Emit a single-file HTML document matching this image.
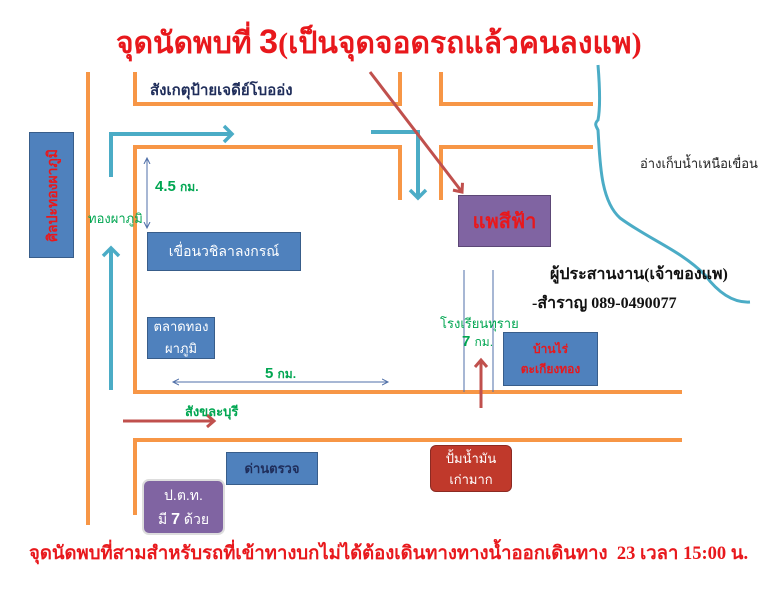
<!DOCTYPE html>
<html><head><meta charset="utf-8"><style>
body{margin:0;background:#fff}
.w{position:relative;width:772px;height:600px;overflow:hidden;font-family:"Liberation Sans","Noto Sans CJK SC",sans-serif}
.t{position:absolute;white-space:nowrap}
.b{position:absolute;background:#4F81BD;border:1px solid #385D8A;color:#fff;display:flex;align-items:center;justify-content:center;text-align:center;font-size:13px;box-sizing:border-box;white-space:nowrap}
</style></head><body><div class="w">
<svg width="772" height="600" style="position:absolute;left:0;top:0">
<defs>
<marker id="at" markerUnits="userSpaceOnUse" markerWidth="16" markerHeight="20" refX="10" refY="10" orient="auto"><path d="M2,2 L10,10 L2,18" fill="none" stroke="#4BACC6" stroke-width="3.5"/></marker>
<marker id="ar" markerUnits="userSpaceOnUse" markerWidth="14" markerHeight="16" refX="9" refY="8" orient="auto"><path d="M2,2 L9,8 L2,14" fill="none" stroke="#C0504D" stroke-width="3"/></marker>
<marker id="ab" markerUnits="userSpaceOnUse" markerWidth="8" markerHeight="8" refX="6" refY="4" orient="auto-start-reverse"><path d="M0,1 L6,4 L0,7" fill="none" stroke="#4F6FA8" stroke-width="1"/></marker>
</defs>
<g stroke="#F79646" stroke-width="4" fill="none">
<path d="M88,72 V525"/>
<path d="M135,72 V104 H400 V72"/>
<path d="M400,200 V147 H135 V392 H682"/>
<path d="M441,72 V104 H593"/>
<path d="M441,200 V147 H593"/>
<path d="M682,440 H135 V515"/>
</g>
<g stroke="#4BACC6" stroke-width="4" fill="none">
<path d="M111,177 V134 H232" marker-end="url(#at)"/>
<path d="M111,390 V248" marker-end="url(#at)"/>
<path d="M371,132 H418 V198" marker-end="url(#at)"/>
<path d="M598,65 C600,90 600,110 598,120 C594,124 596,126 598,130 C600,160 600,200 620,218 C650,240 680,250 705,275 C720,295 735,303 750,302" stroke-width="3"/>
</g>
<g stroke="#C0504D" stroke-width="3" fill="none">
<path d="M370,72 L462,192" marker-end="url(#ar)"/>
<path d="M123,421 H214" marker-end="url(#ar)"/>
<path d="M481,408 V360" marker-end="url(#ar)"/>
</g>
<g stroke="#4F6FA8" stroke-width="1">
<path d="M147,158 V228" marker-start="url(#ab)" marker-end="url(#ab)"/>
<path d="M173,382 H388" marker-start="url(#ab)" marker-end="url(#ab)"/>
<path d="M464,270 V392 M493,270 V392"/>
</g>
</svg>
<div class="t" style="left:116px;top:20px;color:#E8181C;font-family:'Liberation Serif','Noto Serif CJK SC',serif;font-size:30px;font-weight:bold">จุดนัดพบที่ <span style="font-family:'Liberation Sans',sans-serif;font-size:34px">3</span>(เป็นจุดจอดรถแล้วคนลงแพ)</div>
<div class="t" style="left:150px;top:78px;font-size:15px;color:#1F2D5A;font-weight:bold">สังเกตุป้ายเจดีย์โบออ่ง</div>
<div class="b" style="left:29px;top:132px;width:45px;height:126px;color:#E8181C;font-weight:bold;font-size:14px"><span style="writing-mode:vertical-rl;transform:rotate(180deg)">ศิลปะทองผาภูมิ</span></div>
<div class="t" style="left:155px;top:178px;color:#00A651;font-size:15px;font-weight:bold">4.5 <span style="font-size:12px">กม.</span></div>
<div class="t" style="left:88px;top:208px;color:#00A651;font-size:13px">ทองผาภูมิ</div>
<div class="b" style="left:147px;top:232px;width:154px;height:39px;font-size:14px">เขื่อนวชิลาลงกรณ์</div>
<div class="b" style="left:147px;top:317px;width:68px;height:42px;font-size:13px;line-height:22px">ตลาดทอง<br>ผาภูมิ</div>
<div class="t" style="left:265px;top:365px;color:#00A651;font-size:15px;font-weight:bold">5 <span style="font-size:12px">กม.</span></div>
<div class="t" style="left:185px;top:401px;color:#00A651;font-size:13px;font-weight:bold">สังขละบุรี</div>
<div class="b" style="left:458px;top:195px;width:93px;height:52px;background:#8064A2;border-color:#5C4776;color:#E8181C;font-weight:bold;font-size:20px;font-family:'Liberation Serif','Noto Serif CJK SC',serif">แพสีฟ้า</div>
<div class="t" style="left:640px;top:153px;font-size:13px;color:#222">อ่างเก็บน้ำเหนือเขื่อน</div>
<div class="t" style="left:550px;top:262px;font-family:'Liberation Serif','Noto Serif CJK SC',serif;font-size:16px;font-weight:bold;color:#111">ผู้ประสานงาน(เจ้าของแพ)</div>
<div class="t" style="left:532px;top:291px;font-family:'Liberation Serif','Noto Serif CJK SC',serif;font-size:16px;font-weight:bold;color:#111">-สำราญ 089-0490077</div>
<div class="t" style="left:440px;top:313px;color:#00A651;font-size:13px">โรงเรียนทุราย</div>
<div class="t" style="left:462px;top:333px;color:#00A651;font-size:15px;font-weight:bold">7 <span style="font-size:12px;font-weight:normal">กม.</span></div>
<div class="b" style="left:503px;top:332px;width:95px;height:54px;color:#E8181C;font-weight:bold;font-size:12px;line-height:20px">บ้านไร่<br>ตะเกียงทอง</div>
<div class="b" style="left:226px;top:452px;width:92px;height:33px;color:#1F2D5A;font-weight:bold;font-size:13px">ด่านตรวจ</div>
<div class="b" style="left:430px;top:445px;width:82px;height:47px;background:#C0392B;border-color:#8C2A22;border-radius:6px;font-size:13px;line-height:21px">ปั้มน้ำมัน<br>เก่ามาก</div>
<div class="b" style="left:142px;top:479px;width:83px;height:56px;background:#8064A2;border:2px solid #ddd;border-radius:7px;font-size:14px;line-height:24px"><div>ป.ต.ท.<br>มี <b style="font-size:16px">7</b> ด้วย</div></div>
<div class="t" style="left:29px;top:539px;color:#E8181C;font-family:'Liberation Serif','Noto Serif CJK SC',serif;font-size:18.5px;font-weight:bold">จุดนัดพบที่สามสำหรับรถที่เข้าทางบกไม่ได้ต้องเดินทางทางน้ำออกเดินทาง&nbsp; 23 เวลา 15:00 น.</div>
</div></body></html>
